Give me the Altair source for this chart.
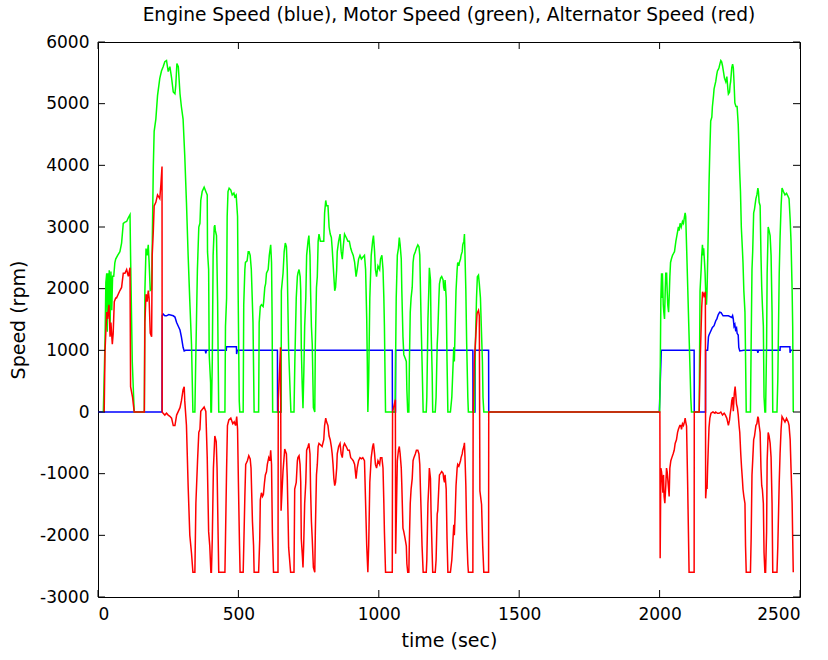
import altair as alt
import pandas as pd

# ---- engine speed (rpm) ----
engine_t = [0, 228, 228.5, 232, 238, 244, 252, 268, 274, 280, 286, 292, 297, 303, 307, 312,
            382, 384, 386, 457, 457.5, 493, 493.5, 496, 639, 639.5, 651, 651.5,
            1048, 1048.5, 1059.5, 1060, 1335, 1335.5, 1342.5, 1343, 1391, 1391.5,
            1999, 2006, 2123, 2123.5, 2163.5, 2164, 2171, 2174, 2176, 2182, 2188, 2194,
            2200, 2204, 2206, 2209, 2214, 2219, 2226, 2237, 2245, 2257, 2260, 2262.5,
            2265, 2268, 2270.5, 2274, 2276, 2280, 2282, 2285.5, 2300, 2348, 2350, 2352,
            2429, 2429.5, 2464, 2464.5, 2467, 2476]
engine_rpm = [0, 0, 1560, 1590, 1560, 1560, 1580, 1560, 1540, 1450, 1390, 1330, 1220, 1050, 990, 1000,
              1000, 950, 1000, 1000, 1060, 1060, 940, 1000, 1000, 0, 0, 1000,
              1000, 0, 0, 1000, 1000, 0, 0, 1000, 1000, 0,
              0, 1000, 1000, 0, 0, 1000, 1000, 1220, 1250, 1310, 1370, 1400,
              1480, 1510, 1540, 1580, 1620, 1610, 1560, 1560, 1560, 1534, 1563, 1506,
              1391, 1420, 1333, 1362, 1276, 1247, 1046, 990, 1000, 1000, 960, 1000,
              1000, 1057, 1057, 960, 1000, 1000]

# ---- motor speed (rpm) ----
motor_t = [19, 25, 28, 31, 33, 35, 38, 40, 43, 46, 49, 52, 56, 60, 63, 70, 78, 84, 90, 96, 102, 108,
           114, 116, 122, 129,
           165, 167, 171, 175, 179, 182, 186, 191, 197, 200, 206, 212, 220, 226, 232, 238, 244,
           250, 256, 262, 268, 274, 277, 281, 286, 292, 297, 303, 309, 315, 321, 327, 333, 338,
           345, 348, 354, 359, 363, 366, 371, 378, 384, 389, 390, 394, 396, 401, 402, 404, 407,
           410, 414, 416, 418, 422, 426, 428, 430, 452, 454, 458, 460, 463, 467, 473, 478, 484,
           487, 492, 497, 499, 503, 505, 517, 519, 523, 525, 531, 535, 538, 542, 546, 552, 556,
           572, 574, 578, 582, 588, 590, 594, 597, 600, 606, 610, 615, 618, 620, 622, 652, 653,
           659, 663, 667, 671, 674, 679, 685, 687, 698, 701, 706, 710, 712, 716, 720, 722, 724,
           727, 730, 733, 736, 740, 743, 748, 751, 755, 757, 760, 763, 767, 772, 774, 778, 781,
           784, 787, 792, 798, 804, 807, 811, 814, 819, 823, 827, 831, 834, 837, 840, 843, 846,
           850, 852, 857, 862, 866, 870, 874, 878, 884, 890, 895, 900, 904, 909, 914, 919, 923,
           928, 933, 938, 943, 949, 953, 957, 959, 961, 964, 968, 973, 978, 981, 985, 988, 992,
           997, 1003, 1006, 1011, 1015, 1018, 1020, 1024, 1058, 1062, 1066, 1070, 1073, 1076,
           1080, 1082, 1086, 1089, 1094, 1098, 1100, 1103, 1107, 1109, 1112, 1115, 1119, 1122,
           1125, 1130, 1134, 1139, 1143, 1146, 1148, 1151, 1154, 1158, 1169, 1171, 1175, 1178,
           1180, 1184, 1186, 1190, 1192, 1201, 1204, 1208, 1210, 1214, 1216, 1220, 1224, 1229,
           1231, 1234, 1236, 1240, 1243, 1246, 1255, 1260, 1263, 1267, 1269, 1272, 1275, 1279,
           1281, 1285, 1287, 1291, 1293, 1297, 1299, 1303, 1305, 1307, 1310, 1313, 1317, 1319,
           1340, 1344, 1348, 1351, 1355, 1358, 1362, 1365, 1369, 1371, 1374, 1391,
           2000, 2002, 2004.5, 2007, 2008, 2010, 2013, 2015, 2017.5, 2020, 2022, 2025, 2027,
           2029, 2032, 2034, 2036.5, 2039, 2042, 2046, 2049.5, 2053, 2058, 2062.5, 2067, 2069.6,
           2073, 2077, 2081.5, 2085, 2088.6, 2091, 2093, 2097, 2100.5, 2104, 2107.6, 2111,
           2113.5, 2141, 2144, 2148, 2150, 2152.6, 2155, 2157, 2160, 2162, 2164, 2167, 2169,
           2171.6, 2174, 2176, 2178.7, 2182, 2186, 2188, 2192, 2194, 2200, 2203.5, 2206, 2209.5,
           2212, 2215, 2218, 2221, 2224, 2227, 2231, 2235.6, 2239.5, 2243, 2245, 2249, 2251,
           2253, 2257, 2260, 2262.5, 2265, 2268, 2272, 2276, 2280, 2282, 2285.5, 2288, 2291,
           2294.7, 2297, 2300, 2304, 2306, 2308.5, 2323.5, 2326, 2329, 2331.5, 2335, 2338, 2343,
           2346.5, 2350, 2352, 2354.5, 2358, 2361, 2363.7, 2366, 2369.5, 2372, 2375, 2377.5,
           2381, 2383, 2386.7, 2390, 2393.6, 2397, 2400.5, 2403, 2418, 2421, 2426, 2429, 2432.7,
           2436, 2441, 2446.5, 2452, 2458, 2461, 2465, 2468, 2472, 2474, 2476]
motor_rpm = [0, 1160, 2100, 2250, 1300, 2250, 1700, 2300, 1350, 2280, 1650, 2200, 2200, 2420, 2480,
             2540, 2600, 2740, 3060, 3080, 3090, 3150, 3200, 2540, 820, 0,
             0, 1965, 2650, 2540, 2710, 2430, 1970, 1990, 3980, 4550, 4750, 5130, 5410, 5530,
             5600, 5680, 5700, 5520, 5600, 5420, 5190, 5160, 5300, 5650, 5600, 5160, 4950, 4750,
             4150, 3400, 2540, 1790, 1100, 0,
             0, 820, 2310, 3000, 3060, 3430, 3575, 3645, 3575, 3520, 2600, 2310, 930, 470, 0, 0,
             820, 2540, 3000, 3030, 2940, 2860, 1790, 820, 0, 0, 1390, 1850, 3170, 3575, 3630,
             3600, 3520, 3550, 3490, 3520, 3170, 1965, 180, 0, 0, 1740, 2310, 2425, 2450, 2600,
             2600, 2540, 2310, 1450, 0, 0, 1450, 1710, 1740, 1710, 1790, 2020, 2080, 2250, 2310,
             2540, 2710, 2425, 1560, 0, 0, 1965, 2250, 2600, 2740, 2680, 2310, 990, 240, 0, 0,
             820, 1850, 2195, 2250, 2310, 2195, 1965, 1050, 470, 60, 640, 1390, 1850, 2540, 2770,
             2860, 2540, 1965, 1390, 1100, 70, 0, 1100, 2020, 2195, 2770, 2885, 2770, 2770, 2770,
             3230, 3430, 3345, 3345, 3000, 2885, 2830, 2655, 2425, 2195, 1965, 2020, 2310, 2600,
             2770, 2885, 2600, 2480, 2710, 2885, 2830, 2770, 2770, 2655, 2600, 2540, 2425, 2195,
             2310, 2480, 2540, 2480, 2510, 2540, 2310, 1510, 820, 0, 530, 1850, 2540, 2770, 2860,
             2600, 2310, 2195, 2370, 2310, 2480, 2540, 2310, 1850, 1390, 0, 0, 1850, 2540, 2655,
             2830, 2710, 2480, 1965, 1220, 930, 870, 820, 360, 0, 0, 820, 1620, 1850, 2020, 2425,
             2540, 2600, 2655, 2710, 2680, 2540, 2080, 1390, 820, 0, 0, 240, 1510, 1965, 2340,
             2140, 1390, 640, 0, 0, 240, 1100, 1280, 1850, 2080, 2170, 2195, 2140, 2020, 1965,
             2140, 1850, 820, 0, 0, 240, 590, 1050, 820, 1390, 1965, 2310, 2425, 2370, 2425, 2480,
             2540, 2600, 2710, 2770, 2885, 2540, 1965, 1100, 240, 0,
             0, 1100, 1850, 2195, 2220, 2080, 1850, 1390, 820, 240, 0, 0,
             0, 530, 1850, 2250, 1850, 2250, 1740, 1620, 1510, 1965, 2250, 2250, 1965, 1740, 1620,
             1850, 2195, 2425, 2480, 2540, 2570, 2600, 2770, 2885, 3000, 2940, 3060, 3000, 3090,
             3060, 3170, 3230, 3170, 2540, 1965, 1390, 820, 240, 0, 0, 1965, 2310, 2540, 2710,
             2540, 2655, 2425, 2250, 1965, 1740, 1965, 2540, 3115, 3690, 4210, 4720, 4780, 4950,
             5130, 5240, 5360, 5470, 5530, 5560, 5590, 5650, 5700, 5680, 5615, 5530, 5414, 5356,
             5440, 5240, 5155, 5184, 5300, 5356, 5586, 5640, 5586, 5356, 5011, 4954, 4954, 4667,
             4380, 3860, 3575, 3000, 2655, 2425, 1965, 1620, 930, 0, 0, 1100, 2310, 2600, 3230,
             3290, 3460, 3520, 3630, 3575, 3400, 3345, 2540, 2020, 1740, 1390, 240, 0, 0, 1100,
             2250, 3000, 2940, 2860, 2540, 1620, 0, 0, 530, 2250, 2830, 3345, 3630, 3575, 3520,
             3546, 3490, 3460, 3115, 2770, 1965, 1390, 0]

# ---- alternator speed (rpm) ----
alt_t = [22, 25, 31, 34, 39, 43, 46, 51, 54, 58, 63, 66, 72, 78, 84, 90, 96, 102, 108, 114, 116,
         123, 129, 165, 167, 171, 175, 179, 182, 186, 191, 193, 197, 200, 206, 212, 220, 224,
         228, 228.5, 232, 238, 244, 250, 256, 262, 268, 274, 280, 286, 292, 297, 303, 307, 309,
         315, 321, 327, 333, 338, 345, 348.6, 354.5, 359, 363, 366, 371, 378, 384, 389, 394,
         398, 402, 404, 407, 411, 416, 421, 424, 428, 430, 452, 454, 458, 461, 466, 473, 480,
         485, 490, 494, 497, 500, 504, 506, 517, 520, 523, 526, 532, 537, 542, 545, 550, 554,
         556, 572, 576, 578, 582, 586, 589, 593, 596, 600, 603, 608, 612, 615, 618, 621, 625,
         641, 642, 650, 652, 659, 665, 671, 674, 679, 686, 698, 700.5, 706, 710, 712, 716,
         719.5, 722, 724, 728, 730, 732.5, 736, 740, 743, 748, 751, 755, 757, 760, 763, 767,
         772, 774, 778, 781, 784, 787, 792, 798, 804, 807, 811, 814, 819, 823, 827, 831, 834,
         837, 840, 843, 846, 850, 852, 857, 862, 866, 870, 874, 878, 884, 890, 895, 900, 904,
         909, 914, 919, 923, 928, 933, 938, 943, 949, 953, 957, 961, 964, 968, 973, 978, 981,
         985, 988, 992, 997, 1003, 1006, 1011, 1015, 1018, 1020, 1024, 1048, 1049, 1059, 1060,
         1066, 1070, 1073, 1076, 1080, 1082, 1086, 1089, 1094, 1098, 1100, 1103, 1107, 1109,
         1112, 1115, 1119, 1122, 1125, 1130, 1134, 1139, 1143, 1146, 1148, 1151, 1154, 1158,
         1169, 1171, 1175, 1178, 1180, 1184, 1186, 1190, 1192, 1201, 1204, 1208, 1210, 1214,
         1216, 1220, 1224, 1229, 1231, 1234, 1236, 1240, 1243, 1246, 1255, 1260, 1263, 1267,
         1269, 1272, 1275, 1279, 1281, 1285, 1287, 1291, 1293, 1297, 1299, 1303, 1305, 1307,
         1310, 1313, 1317, 1319, 1335, 1336, 1340, 1350, 1355, 1358, 1360, 1366, 1370, 1374,
         1391, 1391.5,
         2001, 2002, 2004.5, 2007, 2009, 2011.6, 2014, 2016, 2018.7, 2022, 2024.6, 2027, 2029,
         2032, 2034, 2036.5, 2040, 2043.6, 2048, 2052, 2055.4, 2060, 2064, 2067, 2072, 2075.6,
         2078, 2081.5, 2085, 2088.6, 2091, 2093, 2096, 2100, 2105, 2123, 2123.5, 2141, 2145,
         2150, 2153, 2158, 2163, 2164, 2167, 2169, 2171, 2174, 2176, 2179, 2183, 2190, 2197,
         2200, 2206, 2212, 2218, 2224, 2230, 2234, 2239.5, 2245, 2249, 2251, 2254.5, 2257, 2260,
         2262.5, 2266, 2269, 2272, 2274, 2277, 2280, 2283, 2285.5, 2289, 2292, 2294.7, 2297,
         2300, 2304, 2306, 2308.5, 2323.5, 2326, 2329, 2331.5, 2335, 2338, 2343, 2346.5, 2350,
         2352, 2354.5, 2358, 2361, 2363.7, 2366, 2369.5, 2372, 2375, 2377.5, 2381, 2383,
         2386.7, 2390, 2393.6, 2397, 2400.5, 2403, 2418, 2421, 2426, 2429, 2432.7, 2436, 2441,
         2446.5, 2452, 2458, 2461, 2465, 2468, 2472, 2474, 2476]
alt_rpm = [0, 990, 1620, 1510, 1740, 1220, 1450, 1100, 1270, 1790, 1850, 1850, 1910, 1970, 2020,
           2250, 2250, 2310, 2200, 2340, 410, 240, 0, 0, 1450, 1910, 1790, 1970, 1850, 1280,
           1220, 2540, 2940, 3340, 3400, 3520, 3460, 3690, 3980, 0, -20, -50, -20, -50, -70,
           -100, -220, -220, -50, 10, 70, 180, 360, 410, 180, -220, -1200, -2000, -2290, -2600,
           -2600, -1480, -790, -330, -280, 10, 40, 80, 10, -740, -1940, -2170, -2600, -2600,
           -2060, -910, -390, -480, -910, -2060, -2600, -2600, -2060, -910, -220, -130, -100,
           -190, -160, -220, -75, -280, -1140, -2170, -2600, -2600, -2000, -1370, -850, -790,
           -710, -760, -910, -1770, -2170, -2600, -2600, -2060, -1425, -1310, -1370, -1340,
           -1140, -1020, -970, -850, -740, -790, -620, -850, -1940, -2600,
           -2600, 200, 1050, -1600, -950, -600, -680, -1060, -2200, -2600, -2600, -1250, -1140,
           -790, -740, -710, -850, -1140, -2060, -2345, -2520, -2170, -1480, -1140, -620, -560,
           -510, -680, -1250, -1770, -2060, -2520, -2600, -1940, -1020, -850, -560, -510, -530,
           -560, -450, -220, -100, -160, -220, -390, -450, -560, -680, -850, -1080, -1195, -1140,
           -910, -680, -560, -510, -680, -740, -560, -510, -560, -620, -620, -740, -760, -790,
           -850, -1080, -910, -790, -740, -760, -740, -790, -1480, -2170, -2600, -2170, -1140,
           -740, -560, -510, -680, -850, -910, -790, -850, -740, -740, -910, -1480, -1940, -2600,
           -2600, 0, 200, -2300, -790, -620, -560, -680, -910, -1195, -1885, -1940, -2060,
           -2170, -2460, -2600, -2600, -2060, -1480, -1250, -1080, -790, -740, -680, -620, -620,
           -680, -850, -1195, -1655, -2170, -2600, -2600, -2400, -1480, -1195, -910, -1080,
           -1600, -2290, -2600, -2600, -2400, -1655, -1600, -1195, -1020, -995, -965, -995,
           -1080, -1140, -1020, -1250, -2060, -2600, -2600, -2400, -2170, -1830, -2000, -1655,
           -1195, -910, -850, -880, -850, -790, -740, -680, -620, -560, -500, -740, -1195,
           -1940, -2460, -2600, -2600, 0, 800, 1600, 1650, 1560, -1280, -1500, -2170, -2600,
           -2600, 0,
           0, -2370, -910, -970, -1080, -1310, -1020, -1370, -1480, -1195, -910, -970, -1080,
           -1250, -1370, -910, -790, -740, -680, -620, -510, -450, -330, -280, -220, -220, -280,
           -190, -220, -160, -100, -160, -230, -1200, -2600, -2600, 0, 0, 900, 1700, 1950, 1880,
           1950, -1400, -1200, -1250, -900, -500, -250, -100, -20, 0, -20, 0, -20, -20, 0, -50,
           -20, -46, -103, -218, -132, -46, 69, 184, 241, 11, 299, 414, 241, 126, 69, -46, -218,
           -333, -678, -908, -1080, -1253, -1368, -1483, -2172, -2600, -2600, -2057, -1023,
           -793, -448, -391, -218, -190, -75, -103, -218, -333, -908, -1195, -1253, -1483,
           -2287, -2600, -2600, -1942, -793, -333, -391, -506, -736, -1483, -2600, -2600,
           -2172, -1138, -678, -276, -75, -115, -161, -103, -161, -218, -448, -908, -1483,
           -2057, -2600]

x_ticks = [0, 500, 1000, 1500, 2000, 2500]
y_ticks = [-3000, -2000, -1000, 0, 1000, 2000, 3000, 4000, 5000, 6000]

W, H = 702, 555
TICK = 7
FONT = "DejaVu Sans"
# plain hyphen for negative tick labels
PLAIN_LABEL = "'' + datum.value"


def series_frame(ts, vs):
    return pd.DataFrame({"t": ts, "rpm": vs, "i": list(range(len(ts)))})


x_enc = alt.X(
    "t:Q",
    scale=alt.Scale(domain=[0, 2500], nice=False, zero=False),
    axis=alt.Axis(values=x_ticks, title="time (sec)", labelExpr=PLAIN_LABEL, ticks=False,
                  domain=False, grid=False, labelPadding=9, titleY=43,
                  titleBaseline="middle"),
)
y_enc = alt.Y(
    "rpm:Q",
    scale=alt.Scale(domain=[-3000, 6000], nice=False, zero=False),
    axis=alt.Axis(values=y_ticks, title="Speed (rpm)", labelExpr=PLAIN_LABEL, ticks=False,
                  domain=False, grid=False, labelPadding=9, titleX=-80,
                  titleY=H / 2, titleAngle=270, titleBaseline="middle",
                  titleAlign="center"),
)


def speed_line(df, color):
    return alt.Chart(df).mark_line(color=color, strokeWidth=1.5, clip=True).encode(
        x=x_enc, y=y_enc, order=alt.Order("i:Q")
    )


engine = speed_line(series_frame(engine_t, engine_rpm), "#0000ff")
motor = speed_line(series_frame(motor_t, motor_rpm), "#00ff00")
alternator = speed_line(series_frame(alt_t, alt_rpm), "#ff0000")

# inward tick marks on all four sides of the box
xt = pd.DataFrame({"t": x_ticks})
yt = pd.DataFrame({"rpm": y_ticks})
tick_style = dict(color="black", strokeWidth=1)
ticks_bottom = alt.Chart(xt).mark_rule(**tick_style).encode(
    x=alt.X("t:Q"), y=alt.value(H), y2=alt.value(H - TICK))
ticks_top = alt.Chart(xt).mark_rule(**tick_style).encode(
    x=alt.X("t:Q"), y=alt.value(0), y2=alt.value(TICK))
ticks_left = alt.Chart(yt).mark_rule(**tick_style).encode(
    y=alt.Y("rpm:Q"), x=alt.value(0), x2=alt.value(TICK))
ticks_right = alt.Chart(yt).mark_rule(**tick_style).encode(
    y=alt.Y("rpm:Q"), x=alt.value(W), x2=alt.value(W - TICK))

chart = (
    alt.layer(engine, motor, alternator, ticks_bottom, ticks_top, ticks_left, ticks_right)
    .properties(
        width=W,
        height=H,
        autosize=alt.AutoSizeParams(type="none"),
        padding={"left": 98, "top": 42, "right": 28, "bottom": 63},
        background="white",
        title=alt.TitleParams(
            "Engine Speed (blue), Motor Speed (green), Alternator Speed (red)",
            font=FONT, fontSize=18.6, fontWeight="normal", color="black",
            anchor="middle", baseline="bottom", offset=14, dy=25,
        ),
    )
    .configure_view(stroke="black", strokeWidth=1)
    .configure_axis(
        labelFont=FONT, labelFontSize=17, labelColor="black",
        titleFont=FONT, titleFontSize=19, titleFontWeight="normal", titleColor="black",
    )
)

chart.save("out.html", embed_options={"renderer": "svg", "actions": False})
